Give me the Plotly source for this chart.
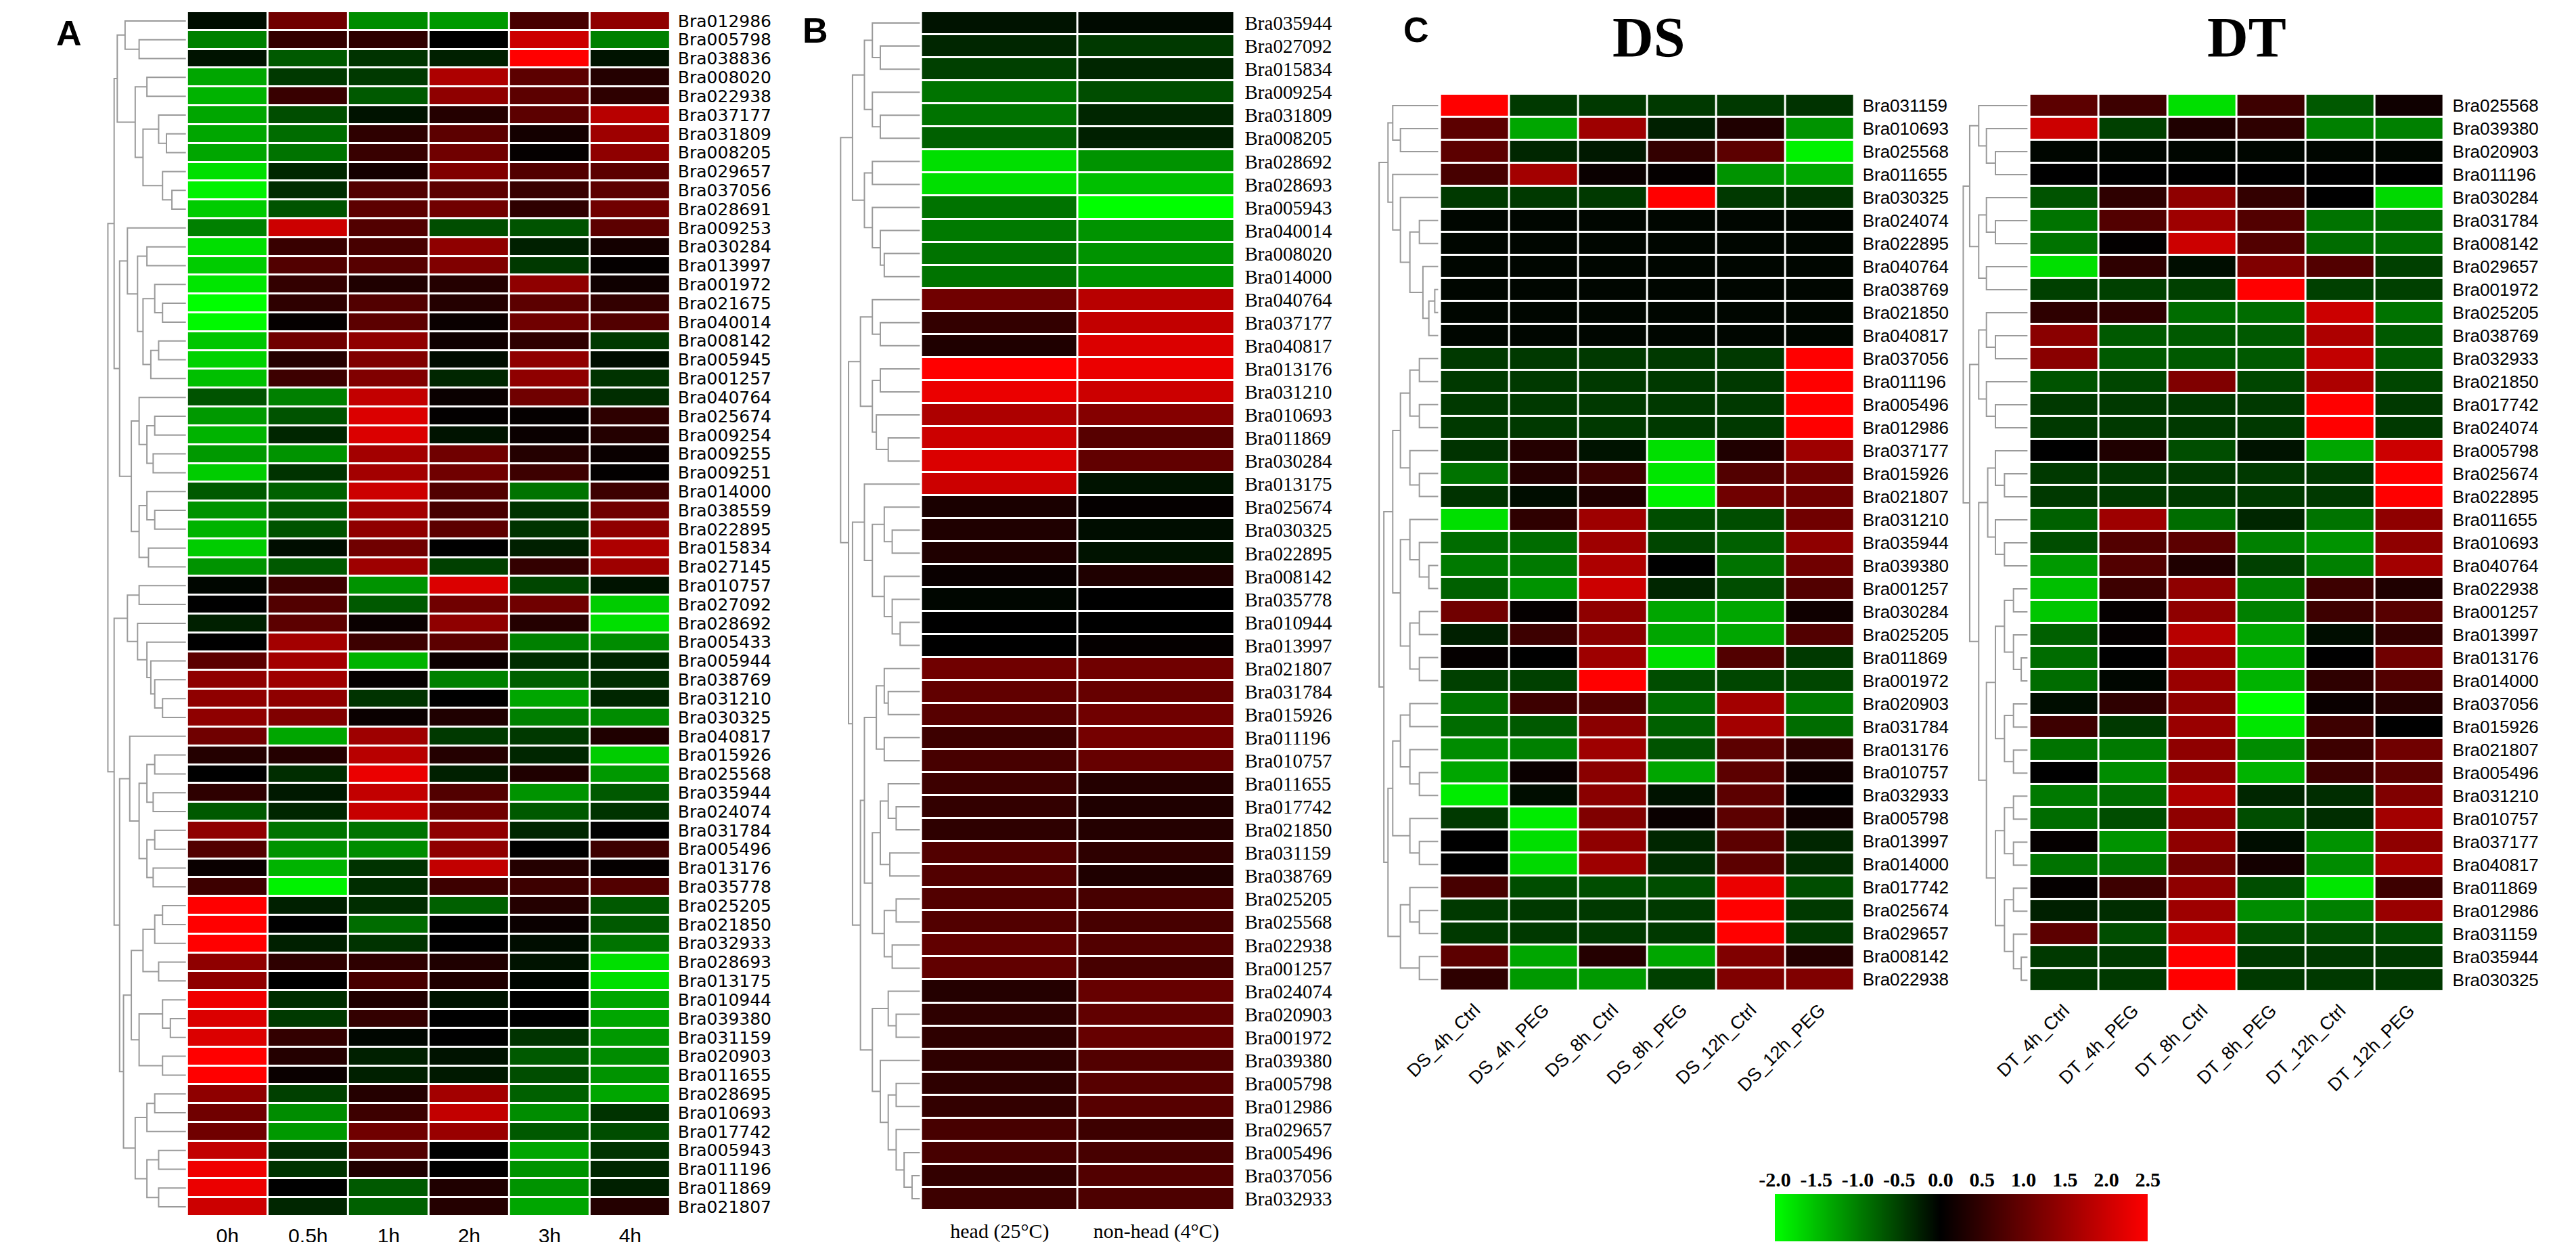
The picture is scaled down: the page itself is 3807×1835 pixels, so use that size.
import plotly.graph_objects as go

W, H = 3807, 1835

# ---- panel A: cold time course ----
a_times = ['0h', '0.5h', '1h', '2h', '3h', '4h']
a_genes = ['Bra012986', 'Bra005798', 'Bra038836', 'Bra008020', 'Bra022938', 'Bra037177', 'Bra031809',
           'Bra008205', 'Bra029657', 'Bra037056', 'Bra028691', 'Bra009253', 'Bra030284', 'Bra013997',
           'Bra001972', 'Bra021675', 'Bra040014', 'Bra008142', 'Bra005945', 'Bra001257', 'Bra040764',
           'Bra025674', 'Bra009254', 'Bra009255', 'Bra009251', 'Bra014000', 'Bra038559', 'Bra022895',
           'Bra015834', 'Bra027145', 'Bra010757', 'Bra027092', 'Bra028692', 'Bra005433', 'Bra005944',
           'Bra038769', 'Bra031210', 'Bra030325', 'Bra040817', 'Bra015926', 'Bra025568', 'Bra035944',
           'Bra024074', 'Bra031784', 'Bra005496', 'Bra013176', 'Bra035778', 'Bra025205', 'Bra021850',
           'Bra032933', 'Bra028693', 'Bra013175', 'Bra010944', 'Bra039380', 'Bra031159', 'Bra020903',
           'Bra011655', 'Bra028695', 'Bra010693', 'Bra017742', 'Bra005943', 'Bra011196', 'Bra011869',
           'Bra021807']
a_expr = [
    [-0.1, 1.1, -1.1, -1.2, 0.7, 1.4], [-1.0, 0.5, 0.45, 0.0, 2.0, -1.0],
    [-0.15, -0.7, -0.4, -0.25, 2.5, -0.15], [-1.3, -0.45, -0.45, 1.7, 0.9, 0.35],
    [-1.4, 0.55, -0.7, 1.4, 0.9, 0.45], [-1.3, -0.6, -0.15, 0.35, 0.9, 1.8],
    [-1.3, -0.85, 0.45, 0.9, 0.2, 1.55], [-1.3, -0.9, 0.55, 1.1, 0.05, 1.4],
    [-1.75, -0.3, 0.2, 1.25, 0.8, 0.9], [-1.9, -0.35, 0.8, 0.9, 0.55, 0.9],
    [-1.6, -0.65, 0.9, 1.1, 0.45, 1.1], [-1.0, 2.0, 0.8, -0.6, -0.65, 0.9],
    [-1.75, 0.55, 0.7, 1.4, -0.25, 0.2], [-1.6, 0.8, 0.85, 1.25, -0.45, 0.05],
    [-1.8, 0.5, 0.3, 0.35, 1.4, 0.15], [-2.0, 0.45, 0.8, 0.35, 0.9, 0.5],
    [-1.95, 0.05, 0.9, 0.1, 1.1, 0.8], [-1.55, 1.1, 1.4, 0.15, 0.45, -0.45],
    [-1.65, 0.35, 1.25, -0.1, 1.4, -0.1], [-1.5, 0.6, 1.25, -0.3, 1.4, -0.4],
    [-0.65, -1.0, 1.9, 0.1, 1.1, -0.35], [-1.2, -0.65, 2.15, 0.03, 0.05, 0.45],
    [-1.4, -0.3, 2.15, -0.15, 0.1, 0.35], [-1.2, -1.15, 1.6, 1.1, 0.35, 0.1],
    [-1.6, -0.4, 1.6, 1.1, 0.6, 0.03], [-0.7, -0.75, 2.0, 0.8, -0.9, 0.6],
    [-1.15, -0.7, 1.6, 0.7, -0.4, 1.1], [-1.4, -0.65, 1.4, 0.9, -0.4, 1.4],
    [-1.6, -0.1, 1.1, 0.0, -0.25, 1.7], [-1.15, -0.7, 1.55, -0.5, 0.5, 1.55],
    [-0.05, 0.6, -1.15, 2.15, -0.55, -0.15], [0.0, 0.8, -0.7, 1.1, 1.1, -1.6],
    [-0.25, 0.9, 0.1, 1.4, 0.35, -1.75], [0.0, 1.6, 0.6, 0.9, -1.0, -1.1],
    [0.9, 1.6, -1.4, 0.1, -0.35, -0.3], [1.4, 1.55, 0.05, -1.0, -0.75, -0.35],
    [1.4, 1.4, -0.4, 0.0, -1.3, -0.3], [1.4, 1.25, 0.1, 0.3, -1.0, -1.1],
    [1.1, -1.3, 1.55, -0.45, -0.45, 0.3], [0.35, 0.35, 1.8, 0.35, -0.3, -1.6],
    [0.0, -0.35, 2.3, -0.25, 0.3, -1.2], [0.45, -0.2, 1.9, 0.8, -1.15, -0.7],
    [-0.7, -0.3, 1.95, 1.1, -0.7, -0.4], [1.4, -0.9, -0.9, 1.4, -0.3, 0.0],
    [0.8, -1.15, -1.1, 1.4, 0.0, 0.6], [0.1, -1.4, -0.4, 1.9, 0.35, 0.05],
    [0.6, -1.9, -0.35, 0.6, 0.6, 0.8], [2.5, -0.25, -0.35, -0.75, 0.35, -0.7],
    [2.5, 0.0, -0.85, 0.0, 0.1, -0.7], [2.5, -0.25, -0.4, 0.0, -0.1, -0.9],
    [1.4, 0.45, 0.45, 0.3, -0.15, -1.75], [1.4, 0.0, 0.7, 0.3, -0.05, -1.75],
    [2.35, -0.35, 0.3, -0.15, 0.0, -1.3], [2.15, -0.45, 0.5, 0.0, 0.0, -1.3],
    [2.15, 0.5, -0.05, 0.0, -0.4, -1.2], [2.5, 0.35, -0.25, -0.15, -0.7, -1.1],
    [2.5, 0.1, -0.25, -0.2, -0.6, -1.15], [1.4, -0.5, 0.35, 1.6, -0.75, -1.3],
    [1.1, -1.1, 0.6, 1.9, -1.1, -0.4], [1.1, -1.2, 1.1, 1.5, -0.7, -0.6],
    [1.9, -0.35, 0.8, 0.0, -1.3, -0.4], [2.35, -0.4, 0.3, 0.0, -1.15, -0.3],
    [2.3, 0.0, -0.7, 0.3, -1.15, -0.25], [2.0, -0.3, -0.75, 0.35, -1.3, 0.35],
]
# dendrograms: [merge height, left, right], leaves are row numbers
a_tree = [1.0,
          [0.92,
           [0.88, [0.78, 0, [0.6, 1, 2]],
            [0.65, [0.5, 3, 4], [0.55, [0.35, 5, [0.25, 6, 7]], [0.3, 8, [0.18, 9, 10]]]]],
           [0.85,
            [0.75, 11, [0.62, [0.5, 12, 13], [0.55, [0.4, 14, [0.3, 15, 16]], [0.45, [0.35, 17, 18], 19]]]],
            [0.7, [0.6, 20, [0.5, [0.4, 21, 22], [0.42, 23, 24]]],
             [0.6, [0.5, 25, [0.4, 26, 27]], [0.48, 28, 29]]]]],
          [0.92,
           [0.75, [0.6, 30, 31], [0.62, 32, [0.5, 33, [0.45, 34, [0.4, 35, [0.3, 36, 37]]]]]],
           [0.85,
            [0.72, 38, [0.6, [0.5, [0.4, 39, 40], [0.42, 41, 42]], [0.5, [0.4, 43, 44], [0.42, 45, 46]]]],
            [0.8,
             [0.7, [0.55, [0.4, [0.3, 47, 48], 49], [0.35, 50, 51]],
              [0.6, [0.3, 52, [0.2, 53, 54]], [0.3, 55, 56]]],
             [0.65, [0.5, [0.4, 57, 58], 59], [0.5, [0.35, 60, 61], [0.35, 62, 63]]]]]]]

# ---- panel B: head vs non-head ----
b_tissues = ['head (25°C)', 'non-head (4°C)']
b_genes = ['Bra035944', 'Bra027092', 'Bra015834', 'Bra009254', 'Bra031809', 'Bra008205', 'Bra028692',
           'Bra028693', 'Bra005943', 'Bra040014', 'Bra008020', 'Bra014000', 'Bra040764', 'Bra037177',
           'Bra040817', 'Bra013176', 'Bra031210', 'Bra010693', 'Bra011869', 'Bra030284', 'Bra013175',
           'Bra025674', 'Bra030325', 'Bra022895', 'Bra008142', 'Bra035778', 'Bra010944', 'Bra013997',
           'Bra021807', 'Bra031784', 'Bra015926', 'Bra011196', 'Bra010757', 'Bra011655', 'Bra017742',
           'Bra021850', 'Bra031159', 'Bra038769', 'Bra025205', 'Bra025568', 'Bra022938', 'Bra001257',
           'Bra024074', 'Bra020903', 'Bra001972', 'Bra039380', 'Bra005798', 'Bra012986', 'Bra029657',
           'Bra005496', 'Bra037056', 'Bra032933']
b_expr = [
    [-0.15, -0.08], [-0.3, -0.45], [-0.5, -0.3], [-0.9, -0.6], [-0.9, -0.3], [-0.75, -0.25],
    [-1.75, -1.15], [-1.75, -1.5], [-0.9, -2.0], [-0.95, -1.15], [-0.9, -1.15], [-0.9, -1.15],
    [1.1, 1.8], [0.5, 1.9], [0.3, 2.15], [2.5, 2.3], [2.3, 2.0], [1.7, 1.3], [2.0, 0.85],
    [2.15, 0.95], [2.0, -0.15], [0.25, 0.05], [0.3, -0.1], [0.3, -0.15], [0.1, 0.3],
    [-0.05, 0.0], [0.0, 0.0], [0.0, 0.05], [1.1, 1.1], [0.95, 1.0], [0.85, 1.1], [0.6, 1.15],
    [0.7, 1.0], [0.6, 0.35], [0.5, 0.3], [0.45, 0.35], [0.8, 0.45], [0.8, 0.3], [0.8, 0.7],
    [0.8, 0.7], [0.95, 0.8], [0.95, 0.7], [0.35, 1.0], [0.45, 0.95], [0.45, 1.0], [0.45, 0.8],
    [0.45, 0.85], [0.5, 0.85], [0.7, 0.6], [0.7, 0.7], [0.5, 0.8], [0.6, 0.75],
]
b_tree = [1.0,
          [0.85, [0.7, [0.6, 0, [0.5, 1, 2]], [0.6, 3, [0.5, 4, 5]]],
           [0.7, [0.6, 6, 7], [0.6, 8, [0.5, 9, [0.45, 10, 11]]]]],
          [0.9,
           [0.75, [0.6, 12, [0.5, 13, 14]], [0.6, [0.5, 15, 16], [0.55, 17, [0.4, 18, 19]]]],
           [0.85,
            [0.7, 20, [0.6, [0.45, 21, [0.35, 22, 23]], [0.45, 24, [0.35, 25, [0.25, 26, 27]]]]],
            [0.75,
             [0.7, [0.55, [0.45, 28, [0.4, 29, 30]], [0.45, 31, 32]],
              [0.6, [0.5, [0.4, 33, [0.3, 34, 35]], [0.38, 36, 37]], [0.45, [0.3, 38, 39], [0.35, 40, 41]]]],
             [0.6, [0.4, 42, [0.3, 43, 44]],
              [0.5, 45, [0.4, [0.3, 46, 47], [0.3, 48, [0.2, 49, [0.1, 50, 51]]]]]]]]]]

# ---- panel C: drought sensitive (DS) and drought tolerant (DT) ----
ds_samples = ['DS_4h_Ctrl', 'DS_4h_PEG', 'DS_8h_Ctrl', 'DS_8h_PEG', 'DS_12h_Ctrl', 'DS_12h_PEG']
ds_genes = ['Bra031159', 'Bra010693', 'Bra025568', 'Bra011655', 'Bra030325', 'Bra024074', 'Bra022895',
            'Bra040764', 'Bra038769', 'Bra021850', 'Bra040817', 'Bra037056', 'Bra011196', 'Bra005496',
            'Bra012986', 'Bra037177', 'Bra015926', 'Bra021807', 'Bra031210', 'Bra035944', 'Bra039380',
            'Bra001257', 'Bra030284', 'Bra025205', 'Bra011869', 'Bra001972', 'Bra020903', 'Bra031784',
            'Bra013176', 'Bra010757', 'Bra032933', 'Bra005798', 'Bra013997', 'Bra014000', 'Bra017742',
            'Bra025674', 'Bra029657', 'Bra008142', 'Bra022938']
ds_expr = [
    [2.5, -0.45, -0.45, -0.45, -0.45, -0.4], [0.9, -1.3, 1.55, -0.25, 0.3, -1.15],
    [0.9, -0.3, -0.2, 0.5, 0.9, -1.9], [0.7, 1.6, 0.1, 0.05, -1.15, -1.3],
    [-0.45, -0.45, -0.45, 2.5, -0.45, -0.4], [-0.05, -0.05, -0.05, -0.05, -0.05, -0.05],
    [-0.05, -0.05, -0.05, -0.05, -0.05, -0.05], [-0.05, -0.05, -0.05, -0.05, -0.05, -0.05],
    [-0.05, -0.05, -0.05, -0.05, -0.05, -0.05], [-0.05, -0.05, -0.05, -0.05, -0.05, -0.05],
    [-0.05, -0.05, -0.05, -0.05, -0.05, -0.05], [-0.45, -0.45, -0.45, -0.45, -0.45, 2.5],
    [-0.45, -0.45, -0.45, -0.45, -0.45, 2.5], [-0.45, -0.45, -0.45, -0.45, -0.45, 2.5],
    [-0.45, -0.45, -0.45, -0.45, -0.45, 2.5], [-0.4, 0.35, -0.15, -1.75, 0.3, 1.55],
    [-0.9, 0.35, 0.6, -1.8, 0.8, 1.1], [-0.4, -0.1, 0.3, -1.9, 1.1, 1.1],
    [-1.75, 0.45, 1.55, -0.6, -0.6, 1.1], [-0.85, -0.85, 1.55, -0.55, -0.75, 1.4],
    [-0.95, -0.95, 1.7, 0.0, -0.9, 1.1], [-0.75, -1.15, 2.0, -0.3, -0.6, 0.8],
    [1.1, 0.05, 1.4, -1.3, -1.3, 0.15], [-0.25, 0.6, 1.35, -1.3, -1.3, 0.8],
    [0.05, 0.0, 1.55, -1.75, 0.8, -0.45], [-0.5, -0.5, 2.5, -0.6, -0.55, -0.55],
    [-0.9, 0.6, 0.8, -0.85, 1.6, -0.95], [-0.85, -0.7, 1.35, -0.75, 1.6, -0.85],
    [-1.1, -1.0, 1.55, -0.65, 0.9, 0.45], [-1.3, 0.1, 1.35, -1.3, 0.9, 0.15],
    [-1.85, -0.1, 1.35, -0.15, 0.9, 0.0], [-0.45, -1.85, 1.25, 0.1, 0.9, 0.15],
    [0.0, -1.75, 1.4, -0.3, 0.9, -0.3], [0.0, -1.7, 1.55, -0.35, 0.9, -0.35],
    [0.7, -0.6, -0.6, -0.6, 2.3, -0.6], [-0.45, -0.45, -0.45, -0.45, 2.5, -0.45],
    [-0.45, -0.45, -0.45, -0.45, 2.5, -0.45], [0.9, -1.3, 0.35, -1.3, 1.25, 0.35],
    [0.45, -1.2, -1.2, -0.5, 1.25, 1.25],
]
ds_tree = [1.0,
           [0.85, [0.77, 0, [0.64, 1, 2]],
            [0.77, 3, [0.64, 4, [0.48, [0.32, 5, 6], [0.26, 7, [0.16, [0.06, 8, 9], 10]]]]]],
           [0.92,
            [0.77, [0.64, [0.48, [0.32, 11, 12], [0.32, 13, 14]], [0.48, 15, [0.32, 16, 17]]],
             [0.64, [0.48, 18, [0.32, 19, [0.16, 20, 21]]], [0.48, [0.32, 22, 23], [0.32, 24, 25]]]],
            [0.85, [0.77, [0.64, [0.48, 26, 27], [0.48, 28, [0.32, 29, 30]]], [0.48, 31, [0.32, 32, 33]]],
             [0.64, [0.48, 34, [0.32, 35, 36]], [0.32, 37, 38]]]]]

dt_samples = ['DT_4h_Ctrl', 'DT_4h_PEG', 'DT_8h_Ctrl', 'DT_8h_PEG', 'DT_12h_Ctrl', 'DT_12h_PEG']
dt_genes = ['Bra025568', 'Bra039380', 'Bra020903', 'Bra011196', 'Bra030284', 'Bra031784', 'Bra008142',
            'Bra029657', 'Bra001972', 'Bra025205', 'Bra038769', 'Bra032933', 'Bra021850', 'Bra017742',
            'Bra024074', 'Bra005798', 'Bra025674', 'Bra022895', 'Bra011655', 'Bra010693', 'Bra040764',
            'Bra022938', 'Bra001257', 'Bra013997', 'Bra013176', 'Bra014000', 'Bra037056', 'Bra015926',
            'Bra021807', 'Bra005496', 'Bra031210', 'Bra010757', 'Bra037177', 'Bra040817', 'Bra011869',
            'Bra012986', 'Bra031159', 'Bra035944', 'Bra030325']
dt_expr = [
    [0.9, 0.6, -1.75, 0.6, -0.7, 0.15], [2.0, -0.5, 0.3, 0.45, -1.0, -1.0],
    [-0.05, -0.05, -0.05, -0.05, -0.05, -0.05], [0.0, 0.0, 0.0, 0.0, 0.0, 0.0],
    [-0.65, 0.45, 1.4, 0.5, 0.0, -1.7], [-0.9, 0.8, 1.55, 0.8, -0.9, -0.85],
    [-0.9, 0.03, 2.0, 0.8, -0.85, -0.85], [-1.75, 0.45, -0.1, 1.25, 0.8, -0.5],
    [-0.5, -0.5, -0.5, 2.5, -0.5, -0.5], [0.45, 0.45, -0.85, -0.85, 2.0, -0.9],
    [1.35, -0.7, -0.7, -0.7, 1.7, -0.7], [1.35, -0.7, -0.7, -0.7, 1.9, -0.7],
    [-0.65, -0.55, 1.25, -0.55, 1.7, -0.55], [-0.45, -0.45, -0.45, -0.45, 2.5, -0.45],
    [-0.45, -0.45, -0.45, -0.45, 2.5, -0.45], [0.0, 0.3, -0.6, -0.15, -1.3, 2.0],
    [-0.45, -0.45, -0.45, -0.45, -0.45, 2.5], [-0.45, -0.45, -0.45, -0.45, -0.45, 2.5],
    [-0.75, 1.55, -0.85, -0.3, -0.9, 1.4], [-0.6, 0.8, 0.9, -1.0, -1.15, 1.4],
    [-1.2, 0.8, 0.3, -0.5, -1.0, 1.6], [-1.5, 0.6, 1.4, -1.0, 0.6, 0.3],
    [-1.55, 0.05, 1.4, -1.0, 0.6, 0.85], [-0.75, 0.05, 1.8, -1.3, -0.1, 0.5],
    [-0.85, 0.0, 1.55, -1.4, 0.0, 1.1], [-0.85, -0.05, 1.5, -1.4, 0.45, 0.8],
    [-0.1, 0.45, 1.4, -2.0, 0.1, 0.35], [0.6, -0.45, 1.5, -1.8, 0.6, 0.0],
    [-0.9, -0.95, 1.4, -1.1, 0.6, 1.1], [0.0, -1.1, 1.4, -1.4, 0.6, 0.9],
    [-0.95, -0.85, 1.7, -0.3, -0.35, 1.25], [-0.85, -0.6, 1.4, -0.6, -0.35, 1.6],
    [0.05, -1.15, 1.4, -0.1, -1.15, 1.4], [-0.9, -0.9, 1.1, 0.2, -1.1, 1.65],
    [0.05, 0.6, 1.4, -0.6, -1.8, 0.6], [-0.25, -0.35, 1.55, -1.1, -1.0, 1.5],
    [0.9, -0.6, 1.9, -0.6, -0.6, -0.6], [-0.45, -0.45, 2.5, -0.45, -0.45, -0.45],
    [-0.45, -0.45, 2.5, -0.45, -0.45, -0.45],
]
dt_tree = [1.0,
           [0.9, [0.76, 0, [0.64, 1, [0.5, 2, 3]]], [0.76, [0.64, 4, [0.5, 5, 6]], [0.64, 7, 8]]],
           [0.9, [0.76, [0.64, 9, [0.5, 10, 11]], [0.64, 12, [0.5, 13, 14]]],
            [0.76, [0.62, [0.5, 15, [0.36, 16, 17]], [0.5, 18, [0.36, 19, 20]]],
             [0.64, [0.5, [0.36, [0.22, 21, 22], [0.22, 23, [0.1, 24, 25]]],
                     [0.36, [0.22, 26, 27], [0.22, 28, 29]]],
              [0.5, [0.36, [0.22, 30, 31], [0.22, 32, 33]],
               [0.36, [0.22, 34, 35], [0.22, 36, [0.1, 37, 38]]]]]]]]

scale_ticks = [-2.0, -1.5, -1.0, -0.5, 0.0, 0.5, 1.0, 1.5, 2.0, 2.5]

GREEN_BLACK_RED = [[0.0, '#00ff00'], [4 / 9, '#000000'], [1.0, '#ff0000']]
ZMIN, ZMAX = -2.0, 2.5
SANS = 'Arial, Liberation Sans, sans-serif'
SERIF = 'Times New Roman, Liberation Serif, serif'
LINE = '#9a9a9a'


def px_x(p):
    return p / W


def px_y(p):
    return 1 - p / H


def ax_id(n):
    return '' if n == 1 else str(n)


def tree_lines(node, xs, ys):
    # walk the tree, returns (row position, merge height)
    if isinstance(node, int):
        return node, 0.0
    h, left, right = node
    yl, hl = tree_lines(left, xs, ys)
    yr, hr = tree_lines(right, xs, ys)
    xs += [hl, h, h, hr, None]
    ys += [yl, yl, yr, yr, None]
    return (yl + yr) / 2, h


panels = [
    dict(genes=a_genes, cols=a_times, z=a_expr, tree=a_tree,
         heat=(219, 947, 9, 1790), dendro=(97, 217),
         row_font=dict(family='DejaVu Sans', size=25, color='black'), row_pad=10,
         col_font=dict(family=SANS, size=30, color='black'), col_pad=8, col_angle=0),
    dict(genes=b_genes, cols=b_tissues, z=b_expr, tree=b_tree,
         heat=(1325, 1797, 9, 1781), dendro=(1201, 1323),
         row_font=dict(family=SERIF, size=29, color='black'), row_pad=14,
         col_font=dict(family=SERIF, size=30, color='black'), col_pad=10, col_angle=0),
    dict(genes=ds_genes, cols=ds_samples, z=ds_expr, tree=ds_tree,
         heat=(2107, 2731, 131, 1457), dendro=(2013, 2104),
         row_font=dict(family=SANS, size=26, color='black'), row_pad=11,
         col_font=dict(family=SANS, size=27, color='black'), col_pad=6, col_angle=-45),
    dict(genes=dt_genes, cols=dt_samples, z=dt_expr, tree=dt_tree,
         heat=(2995, 3619, 131, 1458), dendro=(2893, 2992),
         row_font=dict(family=SANS, size=26, color='black'), row_pad=12,
         col_font=dict(family=SANS, size=27, color='black'), col_pad=6, col_angle=-45),
]

fig = go.Figure()
layout = {}

for i, p in enumerate(panels):
    hx, dx, yy = 2 * i + 1, 2 * i + 2, i + 1
    nrow, ncol = len(p['genes']), len(p['cols'])

    fig.add_trace(go.Heatmap(
        z=p['z'], x=list(range(ncol)), y=list(range(nrow)),
        colorscale=GREEN_BLACK_RED, zmin=ZMIN, zmax=ZMAX, showscale=False,
        xgap=3, ygap=3, hoverinfo='skip',
        xaxis='x' + ax_id(hx), yaxis='y' + ax_id(yy)))

    xs, ys = [], []
    tree_lines(p['tree'], xs, ys)
    fig.add_trace(go.Scatter(
        x=xs, y=ys, mode='lines', line=dict(color=LINE, width=2),
        hoverinfo='skip', showlegend=False,
        xaxis='x' + ax_id(dx), yaxis='y' + ax_id(yy)))

    x0, x1, y0, y1 = p['heat']
    layout['xaxis' + ax_id(hx)] = dict(
        domain=[px_x(x0), px_x(x1)], anchor='y' + ax_id(yy),
        range=[-0.5, ncol - 0.5], tickvals=list(range(ncol)), ticktext=p['cols'],
        tickangle=p['col_angle'], tickfont=p['col_font'], ticklabelstandoff=p['col_pad'],
        ticks='', showgrid=False, zeroline=False, showline=False)
    layout['xaxis' + ax_id(dx)] = dict(
        domain=[px_x(p['dendro'][0]), px_x(p['dendro'][1])], anchor='y' + ax_id(yy),
        range=[1.02, 0], visible=False)
    layout['yaxis' + ax_id(yy)] = dict(
        domain=[px_y(y1), px_y(y0)], anchor='x' + ax_id(hx), side='right',
        range=[nrow - 0.5, -0.5], tickvals=list(range(nrow)), ticktext=p['genes'],
        tickfont=p['row_font'], ticklabelstandoff=p['row_pad'],
        ticks='', showgrid=False, zeroline=False, showline=False)

# colour key: a smoothed strip of the scale values
fig.add_trace(go.Heatmap(
    z=[scale_ticks, scale_ticks], x=scale_ticks, y=[0, 1], zsmooth='best',
    colorscale=GREEN_BLACK_RED, zmin=ZMIN, zmax=ZMAX, showscale=False,
    hoverinfo='skip', xaxis='x9', yaxis='y5'))
layout['xaxis9'] = dict(
    domain=[px_x(2611), px_x(3173)], anchor='y5', side='top',
    range=[scale_ticks[0], scale_ticks[-1]], tickvals=scale_ticks,
    ticktext=['%.1f' % t for t in scale_ticks], ticks='', ticklabelstandoff=4,
    tickfont=dict(family=SERIF, size=30, color='black', weight='bold'),
    showgrid=False, zeroline=False, showline=False)
layout['yaxis5'] = dict(domain=[px_y(1827), px_y(1757)], anchor='x9', range=[-0.5, 1.5], visible=False)

letters = [('A', 41, 41), ('B', 1165, 37), ('C', 2071, 36)]
titles = [('DS', 2421), ('DT', 3322)]
annotations = []
for txt, x, y in letters:
    annotations.append(dict(text='<b>%s</b>' % txt, x=px_x(x), y=px_y(y), xref='paper', yref='paper',
                            showarrow=False, xanchor='center', yanchor='middle',
                            font=dict(family=SANS, size=52, color='black')))
for txt, x in titles:
    annotations.append(dict(text='<b>%s</b>' % txt, x=px_x(x), y=1.0, xref='paper', yref='paper',
                            showarrow=False, xanchor='center', yanchor='top', borderpad=0,
                            font=dict(family=SERIF, size=84, color='black')))

fig.update_layout(
    width=W, height=H,
    margin=dict(l=0, r=0, t=0, b=0),
    paper_bgcolor='white', plot_bgcolor='white',
    showlegend=False,
    annotations=annotations,
    **layout)

fig.write_html("out.html")
